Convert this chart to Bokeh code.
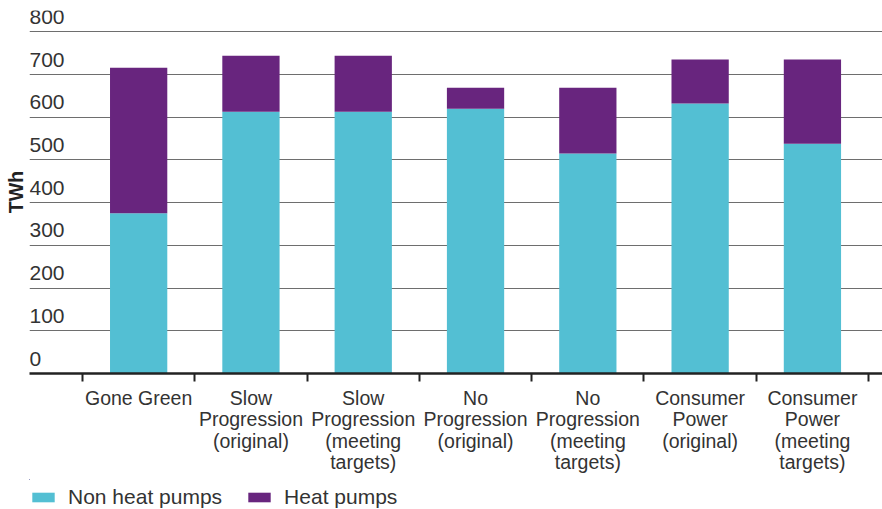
from bokeh.plotting import figure
from bokeh.layouts import column
from bokeh.models import Range1d, FixedTicker, Legend, LegendItem, ColumnDataSource
from bokeh.core.properties import value
from bokeh.embed import file_html
from bokeh.resources import INLINE

# ---- data ----
categories = [
    "Gone Green",
    "Slow\nProgression\n(original)",
    "Slow\nProgression\n(meeting\ntargets)",
    "No\nProgression\n(original)",
    "No\nProgression\n(meeting\ntargets)",
    "Consumer\nPower\n(original)",
    "Consumer\nPower\n(meeting\ntargets)",
]
non_heat_pumps = [375, 613, 613, 620, 515, 632, 538]
heat_pumps = [341, 131, 131, 49, 154, 103, 197]
series_names = ["Non heat pumps", "Heat pumps"]
y_ticks = [0, 100, 200, 300, 400, 500, 600, 700, 800]

CYAN = "#53BFD3"
PURPLE = "#68257E"
TEXT = "#333333"
FONT = "Liberation Sans"

x_pos = list(range(len(categories)))
boundaries = [i - 0.5 for i in range(len(categories) + 1)]
x_start, x_end = -0.972, 6.624

src = ColumnDataSource(dict(x=x_pos, non=non_heat_pumps, hp=heat_pumps))

# ---------------- main chart ----------------
p = figure(width=882, height=479, x_range=Range1d(x_start, x_end),
           y_range=Range1d(0, 850), output_backend="svg", toolbar_location=None,
           min_border_left=29, min_border_right=0, min_border_top=10, min_border_bottom=106)
p.outline_line_color = None
p.background_fill_color = "white"

p.vbar_stack(["non", "hp"], x="x", width=0.51, color=[CYAN, PURPLE],
             line_color=None, source=src)

# grid
p.xgrid.visible = False
p.ygrid.ticker = FixedTicker(ticks=y_ticks)
p.ygrid.grid_line_color = "#6e6e6e"
p.ygrid.grid_line_width = 1.2
p.ygrid.level = "underlay"

# x axis
xa = p.xaxis[0]
xa.ticker = FixedTicker(ticks=x_pos, minor_ticks=boundaries)
xa.major_label_overrides = {i: c for i, c in zip(x_pos, categories)}
xa.major_tick_out = 0
xa.major_tick_in = 0
xa.minor_tick_out = 8
xa.minor_tick_in = 0
xa.minor_tick_line_width = 2
xa.minor_tick_line_color = "#222222"
xa.axis_line_color = "#222222"
xa.axis_line_width = 2.5
xa.major_label_text_font = FONT
xa.major_label_text_font_size = "19.5px"
xa.major_label_text_color = TEXT
xa.major_label_text_line_height = 0.98
xa.major_label_standoff = 5

# y axis (title only)
ya = p.yaxis[0]
ya.ticker = FixedTicker(ticks=[])
ya.axis_line_color = None
ya.axis_label = "TWh"
ya.axis_label_text_font = FONT
ya.axis_label_text_font_style = "bold"
ya.axis_label_text_font_size = "19.5px"
ya.axis_label_text_color = "#222222"
ya.axis_label_standoff = 3

# y tick labels sitting above each gridline
p.text(x=[x_start] * len(y_ticks), y=y_ticks, text=[str(v) for v in y_ticks],
       text_font=value(FONT), text_font_size="21px", text_color=TEXT,
       text_align="left", text_baseline="bottom", y_offset=-8)

# ---------------- legend strip ----------------
lg = figure(width=882, height=30, x_range=Range1d(100, 101), y_range=Range1d(-2000, -1000),
            output_backend="svg", toolbar_location=None,
            x_axis_location=None, y_axis_location=None,
            min_border_left=0, min_border_right=0, min_border_top=0, min_border_bottom=0)
lg.outline_line_color = None
lg.grid.visible = False
lg_r = lg.vbar_stack(["non", "hp"], x="x", width=0.51, color=[CYAN, PURPLE],
                     line_color=None, source=src)

legend = Legend(items=[LegendItem(label=series_names[0], renderers=[lg_r[0]]),
                       LegendItem(label=series_names[1], renderers=[lg_r[1]])],
                orientation="horizontal", location=(0, 0),
                label_text_font=FONT, label_text_font_size="21px", label_text_color=TEXT,
                glyph_width=28, glyph_height=12, label_standoff=11, spacing=23,
                padding=0, margin=0, border_line_color=None, background_fill_alpha=0)
lg.add_layout(legend)

layout = column(p, lg, spacing=0)
open("out.html", "w").write(file_html(layout, INLINE))
